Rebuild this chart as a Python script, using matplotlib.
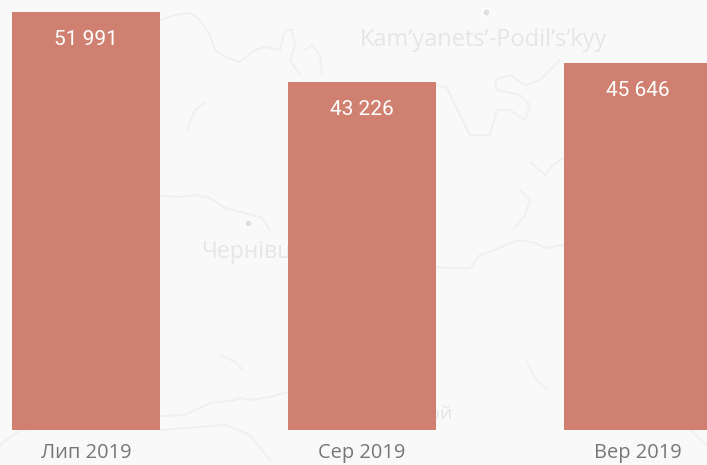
import matplotlib
matplotlib.use("Agg")
import matplotlib.pyplot as plt

months = ["Лип 2019", "Сер 2019", "Вер 2019"]
values = [51991, 43226, 45646]

# faint background map, in picture pixels
map_lines = [
    [(160, 20), (175, 15), (190, 13), (200, 20), (210, 35), (215, 50), (225, 57), (240, 62), (255, 50), (265, 47), (280, 50), (285, 30), (292, 30), (295, 45), (290, 60), (300, 75)],
    [(305, 50), (312, 45), (320, 55), (322, 75)],
    [(187, 130), (195, 110), (205, 103)],
    [(436, 85), (447, 88), (460, 115), (470, 135), (490, 135), (497, 110), (510, 110), (525, 120), (530, 105), (520, 95), (497, 90), (495, 80), (510, 75), (525, 85), (540, 80), (560, 60)],
    [(530, 162), (545, 175), (553, 165), (564, 158)],
    [(520, 190), (530, 200), (525, 215), (515, 228)],
    [(160, 196), (180, 197), (195, 195), (210, 198), (225, 208), (245, 213), (262, 218), (270, 230)],
    [(436, 267), (450, 268), (470, 268), (480, 255), (495, 250), (505, 245), (520, 240), (535, 243), (545, 248), (564, 245)],
    [(160, 416), (185, 415), (210, 403), (235, 400), (240, 398), (250, 400), (270, 397), (288, 392)],
    [(0, 445), (20, 430), (60, 428)],
    [(160, 430), (225, 425), (250, 435), (270, 460)],
    [(220, 355), (235, 362), (243, 370)],
    [(527, 362), (535, 378), (547, 390)],
    [(690, 430), (707, 445)],
]
map_labels = [("Kam’yanets’-Podil’s’kyy", 360, 40, 17), ("Чернівці", 201, 252, 16.5), ("Хотиной", 372, 414, 14)]
map_dots = [(248, 223), (486, 12)]

W, H = 707, 465
bg = "#f9f9f9"

fig = plt.figure(figsize=(W / 100, H / 100), dpi=100, facecolor=bg)

# map layer
mp = fig.add_axes([0, 0, 1, 1], zorder=0)
mp.set_xlim(0, W)
mp.set_ylim(H, 0)
mp.axis("off")
for line in map_lines:
    mp.plot([p[0] for p in line], [p[1] for p in line], color="#f0f0f0", lw=1.4)
for name, x, y, size in map_labels:
    mp.text(x, y, name, color="#e6e6e6", fontsize=size, family="Open Sans", va="center")
mp.scatter([d[0] for d in map_dots], [d[1] for d in map_dots], s=30, color="#e0e0e0", edgecolors="white")

# bars, axes bottom sits on y=430 px
ax = fig.add_axes([0, (H - 430) / H, 1, 430 / H], zorder=1)
ax.patch.set_alpha(0)
xs = range(len(values))
bars = ax.bar(xs, values, width=148 / 276, color="#d08070")
ax.set_xlim(-86 / 276, (707 - 86) / 276)
ax.set_ylim(0, 51991 * 430 / 418)

for x, v in zip(xs, values):
    ax.annotate(f"{v:,}".replace(",", " "), (x, v), xytext=(0, -19.5), textcoords="offset points",
                ha="center", va="center", color="white", fontsize=15, family="Roboto")

ax.set_xticks(list(xs))
ax.set_xticklabels(months, family="Open Sans", fontsize=14.4, color="#777777")
ax.tick_params(axis="x", length=0, pad=9.5)
ax.set_yticks([])
for s in ax.spines.values():
    s.set_visible(False)

fig.savefig("out.png", dpi=100, facecolor=bg)
